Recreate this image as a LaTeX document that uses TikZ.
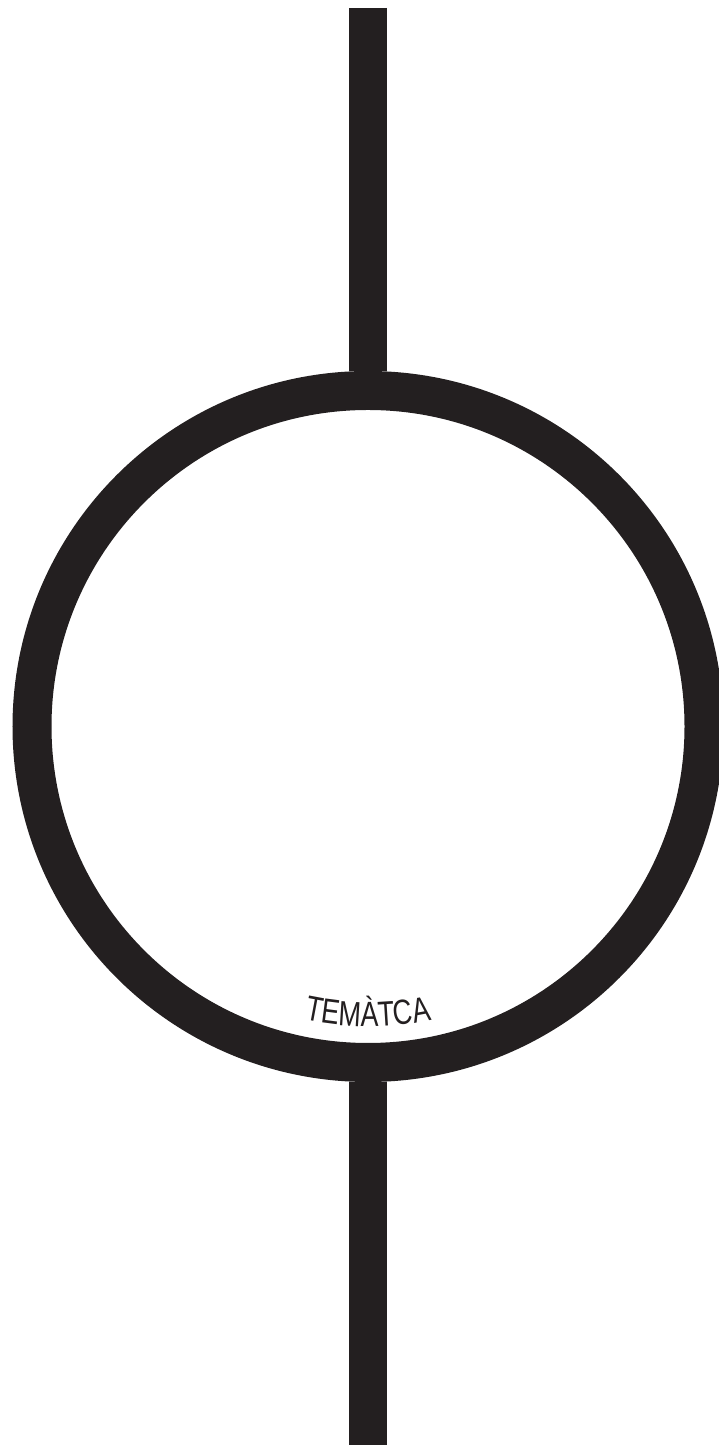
\documentclass[tikz,border=0pt]{standalone}
\usepackage{fontspec}
\setmainfont{Liberation Sans}
\usepackage{xcolor}
\definecolor{ink}{HTML}{231F20}

\begin{document}
\begin{tikzpicture}[x=0.5pt, y=0.5pt,
    ring/.style={circle, draw=ink, line width=19.5pt, minimum size=336pt, inner sep=0pt},
    stem/.style={draw=ink, line width=19pt},
    glyph/.style={text=ink, font=\fontsize{17.5}{17.5}\selectfont, inner sep=0pt, anchor=base}]
                \useasboundingbox (0,0) rectangle (718,1445);
                \coordinate (hub) at (368,718.5);
                \coordinate (topend) at (368,1437);
                \coordinate (botend) at (368,0);
                \node[ring] (dial) at (hub) {};

                \path[stem] (topend) -- (dial.north);
                \path[stem] (dial.south) -- (botend);

                \foreach \ch/\ang [count=\i] in {T/-10.7, E/-7.4, M/-3.6, À/0.3, T/3.6, C/7.0, A/10.6}
                \node[glyph, rotate=\ang, xscale=0.77] (l\i) at ([shift={(\ang-90:300)}]hub) {\ch};
            \end{tikzpicture}
\end{document}
